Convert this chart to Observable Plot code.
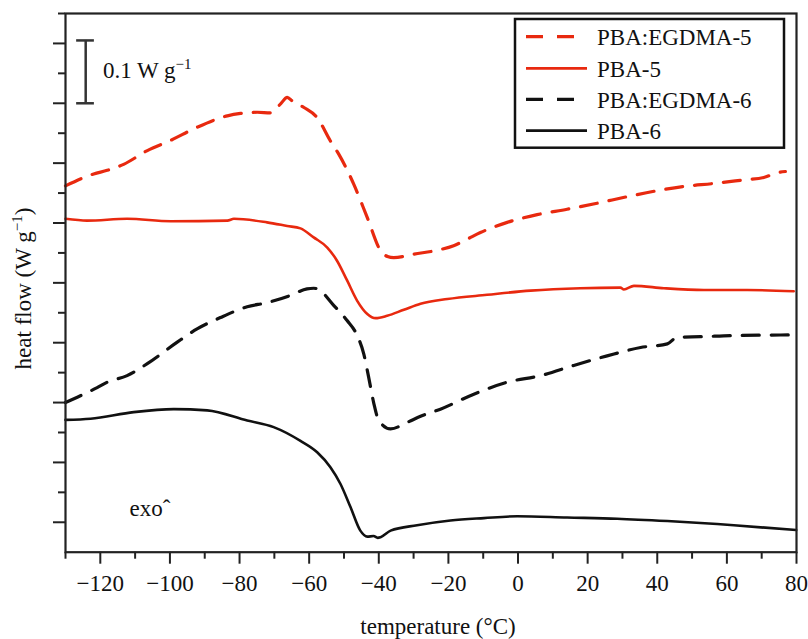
<!DOCTYPE html>
<html><head><meta charset="utf-8">
<script src="https://cdn.jsdelivr.net/npm/d3@7"></script>
<script src="https://cdn.jsdelivr.net/npm/@observablehq/plot@0.6"></script>
<style>body{margin:0;background:#fff} svg text{font-family:"Liberation Serif","Times New Roman",serif}</style>
</head><body><div id="chart"></div>
<script>
// ---- data: [temperature °C, heat flow W g^-1 (offset, arbitrary origin)] ----
const seriesNames = ["PBA:EGDMA-5", "PBA-5", "PBA:EGDMA-6", "PBA-6"];
const seriesColors = ["#e8290f", "#e8290f", "#111111", "#111111"];
const seriesDashed = [true, false, true, false];

const pbaEgdma5 = [[-130,0.612],[-121.9,0.632],[-118,0.638],[-113.3,0.648],[-106.5,0.671],[-99.8,0.688],[-92.2,0.71],[-83.5,0.729],[-79.7,0.733],[-74.9,0.735],[-71.1,0.734],[-68.2,0.749],[-66.3,0.760],[-64.9,0.754],[-61.5,0.743],[-57.7,0.726],[-53.9,0.687],[-51.5,0.665],[-47.2,0.615],[-43.3,0.559],[-39.5,0.504],[-37.5,0.494],[-35.7,0.492],[-29.9,0.498],[-22.8,0.505],[-18.5,0.512],[-14.6,0.523],[-10.8,0.534],[-3.1,0.551],[5.5,0.564],[14.1,0.573],[22.7,0.583],[31.4,0.594],[40,0.604],[47.6,0.611],[56.2,0.616],[64.9,0.622],[70.6,0.626],[74.5,0.634],[76.8,0.636]];
const pba5 = [[-130,0.557],[-123.8,0.554],[-112.3,0.557],[-99.8,0.553],[-83.5,0.554],[-81.6,0.557],[-72.1,0.551],[-66.3,0.545],[-62.5,0.541],[-58.7,0.526],[-54.8,0.509],[-52,0.487],[-49.1,0.454],[-46.2,0.42],[-43.3,0.398],[-40.9,0.391],[-37.6,0.395],[-32.8,0.405],[-28,0.415],[-20.3,0.423],[-8.9,0.43],[3.6,0.437],[17.9,0.441],[29.4,0.442],[30.4,0.439],[33.3,0.445],[41.9,0.441],[53.4,0.438],[65.8,0.438],[79.2,0.436]];
const pbaEgdma6 = [[-130,0.25],[-126.6,0.259],[-120.9,0.275],[-118,0.284],[-112.3,0.295],[-106.5,0.315],[-97.9,0.351],[-92.2,0.373],[-85.5,0.392],[-77.8,0.41],[-72.1,0.417],[-65.4,0.429],[-60.6,0.44],[-58.7,0.441],[-57.7,0.44],[-52.9,0.412],[-49.1,0.387],[-46.2,0.362],[-44.3,0.331],[-42.9,0.292],[-41.4,0.248],[-40,0.22],[-36.6,0.206],[-31.8,0.217],[-28,0.227],[-22.3,0.239],[-12.7,0.264],[-3.1,0.284],[6.5,0.295],[16,0.312],[25.6,0.328],[35.2,0.342],[42.9,0.348],[45.7,0.359],[52.4,0.36],[62,0.362],[79.9,0.363]];
const pba6 = [[-130,0.221],[-122.8,0.223],[-110.4,0.234],[-98.9,0.239],[-89.3,0.237],[-77.8,0.22],[-70.2,0.209],[-62.5,0.186],[-57.7,0.167],[-53.9,0.142],[-51,0.114],[-48.1,0.075],[-45.3,0.036],[-43.3,0.026],[-41.5,0.027],[-40.3,0.024],[-39.5,0.025],[-36.6,0.036],[-29,0.045],[-19.4,0.053],[-9.8,0.057],[-0.2,0.06],[14.1,0.058],[28.5,0.056],[42.9,0.052],[57.2,0.047],[62,0.045],[79.9,0.037]];

const xMajorTicks = [-120,-100,-80,-60,-40,-20,0,20,40,60,80];
const xMinorTicks = [-130,-110,-90,-70,-50,-30,-10,10,30,50,70];
const yMajorTicks = [0.05,0.15,0.25,0.35,0.45,0.55,0.65,0.75,0.85];
const yMinorTicks = [0.1,0.2,0.3,0.4,0.5,0.6,0.7,0.8,0.9];

const scaleBar = {x: -124.2, y1: 0.75, y2: 0.855, capX1: -126.8, capX2: -121.7};
const scaleBarLabel = {x: -119.1, y: 0.791, text: "0.1 W g", sup: "−1"};
const exoLabel = [{x: -111.6, y: 0.06, text: "exoˆ"}];
const xLabel = "temperature (°C)";
const yLabel = "heat flow (W g";

const allSeries = [pbaEgdma5, pba5, pbaEgdma6, pba6];
const rows = allSeries.flatMap((arr, i) => arr.map(([t, v]) => ({series: seriesNames[i], t, v})));

const FONT = '"Liberation Serif", "Times New Roman", serif';
const INK = "#111";

const lineMarks = seriesNames.map((name, i) =>
  Plot.line(rows.filter(d => d.series === name), {
    x: "t", y: "v", stroke: seriesColors[i], curve: "monotone-x",
    strokeWidth: seriesDashed[i] ? 3.2 : 2.6,
    strokeDasharray: seriesDashed[i] ? "17,12" : null,
    strokeLinejoin: "round"
  })
);

const plot = Plot.plot({
  width: 808, height: 639,
  marginLeft: 65, marginRight: 12, marginTop: 13, marginBottom: 87.3,
  x: {domain: [-130, 80]},
  y: {domain: [0, 0.9]},
  style: {fontFamily: FONT, fontSize: "23px", color: INK, background: "white"},
  marks: [
    Plot.axisX(xMajorTicks, {tickSize: 12, tickPadding: 10, label: null, strokeWidth: 2, fontSize: 23, fontFamily: FONT, stroke: "#222"}),
    Plot.axisX(xMinorTicks, {tickSize: 7, tickFormat: () => "", label: null, strokeWidth: 2, stroke: "#222"}),
    Plot.axisY(yMajorTicks, {tickSize: 12, tickFormat: () => "", label: null, strokeWidth: 2, stroke: "#222"}),
    Plot.axisY(yMinorTicks, {tickSize: 7, tickFormat: () => "", label: null, strokeWidth: 2, stroke: "#222"}),
    ...lineMarks,
    Plot.frame({stroke: "#222", strokeWidth: 2.2}),
    Plot.ruleX([scaleBar], {x: "x", y1: "y1", y2: "y2", stroke: "#333", strokeWidth: 2.5}),
    Plot.ruleY([scaleBar.y1, scaleBar.y2], {x1: scaleBar.capX1, x2: scaleBar.capX2, stroke: "#333", strokeWidth: 2.5}),
    Plot.text(exoLabel, {x: "x", y: "y", text: "text", textAnchor: "start", lineAnchor: "bottom", fontSize: 23, fontFamily: FONT, fill: INK})
  ]
});

const svg = d3.select(plot);
const sx = plot.scale("x"), sy = plot.scale("y");

// scale-bar label with superscript
const sb = svg.append("text")
  .attr("x", sx.apply(scaleBarLabel.x)).attr("y", sy.apply(scaleBarLabel.y))
  .attr("text-anchor", "start")
  .attr("font-family", FONT).attr("font-size", 23).attr("fill", INK);
sb.append("tspan").text(scaleBarLabel.text);
sb.append("tspan").attr("dy", -9).attr("font-size", 15).text(scaleBarLabel.sup);

// axis titles
svg.append("text")
  .attr("x", 438).attr("y", 634).attr("text-anchor", "middle")
  .attr("font-family", FONT).attr("font-size", 23).attr("fill", INK)
  .text(xLabel);
const yl = svg.append("text")
  .attr("transform", "translate(31,288.5) rotate(-90)").attr("text-anchor", "middle")
  .attr("font-family", FONT).attr("font-size", 23).attr("fill", INK);
yl.append("tspan").text(yLabel);
yl.append("tspan").attr("dy", -9).attr("font-size", 15).text("−1");
yl.append("tspan").attr("dy", 9).text(")");

// legend (top-right inside plot frame)
const lg = svg.append("g");
lg.append("rect").attr("x", 515).attr("y", 19).attr("width", 269).attr("height", 128.7)
  .attr("fill", "white").attr("stroke", INK).attr("stroke-width", 2.5);
const rowY = [36.7, 68.3, 99.3, 130.7];
seriesNames.forEach((name, i) => {
  lg.append("line").attr("x1", 526).attr("x2", seriesDashed[i] ? 574 : 587)
    .attr("y1", rowY[i]).attr("y2", rowY[i])
    .attr("stroke", seriesColors[i]).attr("stroke-width", seriesDashed[i] ? 3.2 : 2.8)
    .attr("stroke-dasharray", seriesDashed[i] ? "17,14" : null);
  lg.append("text").attr("x", 597).attr("y", rowY[i] + 8.5).attr("text-anchor", "start")
    .attr("font-family", FONT).attr("font-size", 23).attr("fill", INK).text(name);
});

document.getElementById("chart").appendChild(plot);
</script>
</body></html>
